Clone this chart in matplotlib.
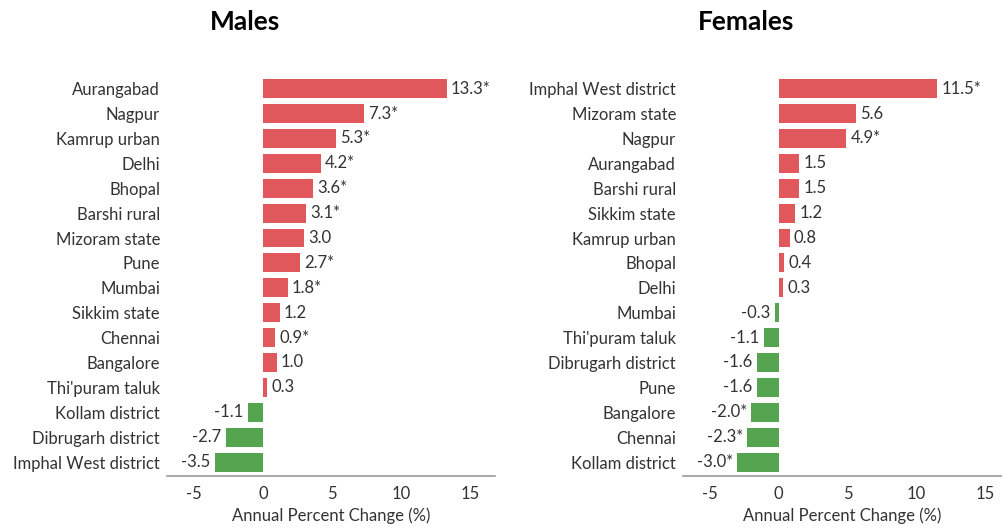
import numpy as np
import matplotlib.pyplot as plt

plt.rcParams['font.family'] = ['Lato', 'DejaVu Sans']

male_sites = ["Aurangabad", "Nagpur", "Kamrup urban", "Delhi", "Bhopal", "Barshi rural",
              "Mizoram state", "Pune", "Mumbai", "Sikkim state", "Chennai", "Bangalore",
              "Thi'puram taluk", "Kollam district", "Dibrugarh district", "Imphal West district"]
male_apc = [13.3, 7.3, 5.3, 4.2, 3.6, 3.1, 3.0, 2.7, 1.8, 1.2, 0.9, 1.0, 0.3, -1.1, -2.7, -3.5]
male_sig = [1, 1, 1, 1, 1, 1, 0, 1, 1, 0, 1, 0, 0, 0, 0, 0]

female_sites = ["Imphal West district", "Mizoram state", "Nagpur", "Aurangabad", "Barshi rural",
                "Sikkim state", "Kamrup urban", "Bhopal", "Delhi", "Mumbai", "Thi'puram taluk",
                "Dibrugarh district", "Pune", "Bangalore", "Chennai", "Kollam district"]
female_apc = [11.5, 5.6, 4.9, 1.5, 1.5, 1.2, 0.8, 0.4, 0.3, -0.3, -1.1, -1.6, -1.6, -2.0, -2.3, -3.0]
female_sig = [1, 0, 1, 0, 0, 0, 0, 0, 0, 0, 0, 0, 0, 1, 1, 1]

xticks = [-5, 0, 5, 10, 15]
RED = '#E0575C'
GREEN = '#55A44F'
TXT = '#333333'
FS = 12

fig = plt.figure(figsize=(10.03, 5.29), dpi=100)
W, H = 1003, 529


def draw(rect, title, title_x, sites, vals, sig, xmax):
    ax = fig.add_axes(rect)
    y = np.arange(len(sites))
    cols = [RED if v >= 0 else GREEN for v in vals]
    ax.barh(y, vals, height=0.76, color=cols)
    for yi, v, s in zip(y, vals, sig):
        lab = f"{v:.1f}" + ("*" if s else "")
        if v >= 0:
            ax.annotate(lab, (v, yi), xytext=(3, 0), textcoords='offset points',
                        ha='left', va='center', fontsize=FS, color=TXT)
        else:
            ax.annotate(lab, (v, yi), xytext=(-3, 0), textcoords='offset points',
                        ha='right', va='center', fontsize=FS, color=TXT)
    ax.set_yticks(y)
    ax.set_yticklabels(sites, fontsize=FS, color=TXT)
    ax.set_ylim(15.56, -0.75)
    ax.set_xlim(-6.95, xmax)
    ax.set_xticks(xticks)
    ax.set_xticklabels([str(t) for t in xticks], fontsize=FS, color=TXT)
    ax.tick_params(axis='both', length=0)
    ax.tick_params(axis='x', pad=7)
    ax.tick_params(axis='y', pad=5)
    for sp in ['top', 'right', 'left']:
        ax.spines[sp].set_visible(False)
    ax.spines['bottom'].set_color('#9a9a9a')
    ax.spines['bottom'].set_linewidth(1.2)
    ax.set_xlabel('Annual Percent Change (%)', fontsize=FS, color=TXT, labelpad=4)
    fig.text(title_x / W, 1 - 22 / H, title, ha='center', va='center',
             fontsize=19, fontweight='bold', color='black')
    return ax


ax1 = draw([167 / W, 1 - 476 / H, (495 - 167) / W, (476 - 70) / H], 'Males', 245,
           male_sites, male_apc, male_sig, 16.8)
ax2 = draw([683 / W, 1 - 476 / H, (1002 - 683) / W, (476 - 70) / H], 'Females', 746,
           female_sites, female_apc, female_sig, 16.2)

fig.savefig('out.png', dpi=100)
